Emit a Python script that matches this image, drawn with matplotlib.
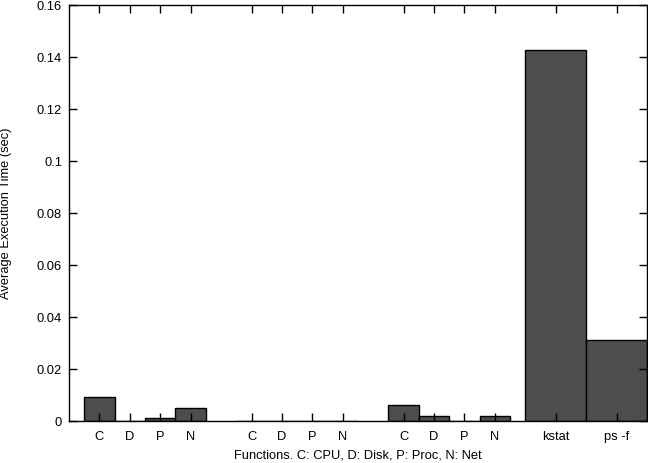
import matplotlib
matplotlib.use("Agg")
import matplotlib.pyplot as plt
import numpy as np

plt.rcParams['font.family'] = ['Liberation Sans', 'DejaVu Sans']

# Data
labels = ["C", "D", "P", "N", "C", "D", "P", "N", "C", "D", "P", "N", "kstat", "ps -f"]
positions = [1, 2, 3, 4, 6, 7, 8, 9, 11, 12, 13, 14, 16, 18]
widths = [1] * 12 + [2, 2]
values = [0.0092, 0.0, 0.001, 0.0049,
          0.0, 0.0, 0.0, 0.0,
          0.006, 0.0018, 0.0, 0.0018,
          0.1427, 0.031]
yticks = [0, 0.02, 0.04, 0.06, 0.08, 0.1, 0.12, 0.14, 0.16]
ytick_labels = ["0", "0.02", "0.04", "0.06", "0.08", "0.1", "0.12", "0.14", "0.16"]

fig = plt.figure(figsize=(6.48, 4.63), dpi=100)
ax = fig.add_axes([69/648, 42/463, (647-69)/648, (421-5)/463])

ax.bar(positions, values, width=widths, color="#4d4d4d", edgecolor="black",
       linewidth=1.0, zorder=1)

ax.set_xlim(0, 19)
ax.set_ylim(0, 0.16)
ax.set_xticks(positions)
ax.set_xticklabels(labels)
ax.set_yticks(yticks)
ax.set_yticklabels(ytick_labels)
ax.tick_params(direction="in", length=6, width=1, top=True, right=True,
               labelsize=9.3, pad=7)
ax.tick_params(axis="y", pad=5)
for s in ax.spines.values():
    s.set_linewidth(1.0)
    s.set_zorder(3)

ax.set_ylabel("Average Execution Time (sec)", fontsize=9.3, labelpad=18)
ax.set_xlabel("Functions. C: CPU, D: Disk, P: Proc, N: Net", fontsize=9.3, labelpad=5)

fig.savefig("out.png", dpi=100)
